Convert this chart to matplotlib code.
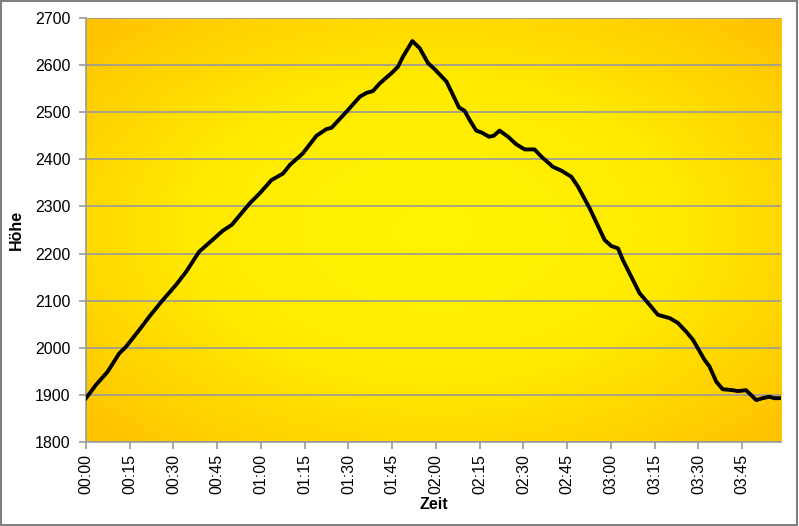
import numpy as np
import matplotlib.pyplot as plt
from matplotlib.colors import LinearSegmentedColormap
from matplotlib.patches import Rectangle

plt.rcParams['font.family'] = ['Liberation Sans', 'DejaVu Sans']

# -------------------------------
# DATA (minutes since start, height in m)
# -------------------------------
minutes = [0, 3.4, 7.4, 11.4, 13.7, 18.3, 21.7, 26.3, 30.8, 34.3, 38.8, 43.4,
           46.8, 50, 56.2, 59.6, 63.6, 67.6, 69.9, 74.4, 79, 82.4, 84.2, 89.3,
           93.9, 96.2, 98.4, 100.7, 105.3, 107, 108.7, 111.9, 114.4, 117.3,
           119.6, 123.6, 125.8, 127.9, 129.8, 131.6, 133.8, 135.6, 138.2,
           139.8, 141.8, 144.7, 147.5, 150.4, 153.8, 156.1, 160.1, 163, 166.4,
           168.7, 172.7, 177.8, 180.1, 182.4, 184.1, 189.8, 193.8, 196.1,
           200.1, 202.9, 205.8, 208.1, 212.1, 213.8, 216.1, 218.3, 221.8,
           223.5, 226.3, 229.8, 232, 234.3, 236, 238.3]
height = [1893, 1921, 1949, 1988, 2002, 2038, 2066, 2101, 2133, 2161, 2204, 2229,
          2248, 2261, 2307, 2328, 2356, 2370, 2388, 2413, 2450, 2464, 2467, 2501,
          2533, 2541, 2545, 2561, 2586, 2597, 2618, 2651, 2636, 2604,
          2591, 2565, 2537, 2510, 2503, 2483, 2461, 2457, 2448,
          2450, 2461, 2448, 2432, 2421, 2421, 2406, 2384, 2376, 2363,
          2342, 2296, 2229, 2216, 2211, 2186, 2116, 2087, 2070,
          2063, 2053, 2034, 2017, 1974, 1960, 1928, 1912, 1910,
          1908, 1910, 1889, 1893, 1896, 1893, 1893]

tick_minutes = [0, 15, 30, 45, 60, 75, 90, 105, 120, 135, 150, 165, 180, 195, 210, 225]
tick_labels = ["00:00", "00:15", "00:30", "00:45", "01:00", "01:15", "01:30", "01:45",
               "02:00", "02:15", "02:30", "02:45", "03:00", "03:15", "03:30", "03:45"]

# -------------------------------
# FIGURE
# -------------------------------
fig = plt.figure(figsize=(7.99, 5.26), dpi=100)
ax = fig.add_axes([0.1076, 0.1597, 0.8699, 0.8061])

# radial gradient background (yellow centre, orange edges)
gx, gy = np.meshgrid(np.linspace(-1, 1, 400), np.linspace(-1, 1, 300))
dist = np.sqrt(gx ** 2 + gy ** 2) / np.sqrt(2)
cmap = LinearSegmentedColormap.from_list("bg", ["#FFF500", "#FFEA00", "#FFC000"])
ax.imshow(dist, cmap=cmap, extent=[0, 1, 0, 1], transform=ax.transAxes,
          aspect='auto', zorder=0, vmin=0, vmax=1)

ax.plot(minutes, height, color='black', lw=2.8, zorder=3, solid_joinstyle='round')

ax.set_xlim(0, 238.3)
ax.set_ylim(1800, 2700)
ax.set_yticks(range(1800, 2701, 100))
ax.set_xticks(tick_minutes)
ax.set_xticklabels(tick_labels, rotation=90)

ax.grid(axis='y', color='#999999', lw=1.2, zorder=1)
ax.set_axisbelow(False)
for s in ['top', 'right']:
    ax.spines[s].set_visible(False)
for s in ['left', 'bottom']:
    ax.spines[s].set_color('#999999')
    ax.spines[s].set_linewidth(1.2)
    ax.spines[s].set_zorder(2)

ax.tick_params(axis='both', direction='out', length=5, width=1.2, color='#999999',
               labelsize=11.5, labelcolor='black')
ax.tick_params(axis='y', pad=6)

ax.set_xlabel("Zeit", fontsize=11.5, fontweight='bold', labelpad=2)
ax.set_ylabel("Höhe", fontsize=11.5, fontweight='bold', labelpad=8)

# outer border of the chart
fig.patches.append(Rectangle((0.001, 0.002), 0.996, 0.996, transform=fig.transFigure,
                             fill=False, edgecolor='#808080', lw=1.5))

fig.savefig("out.png", dpi=100)
